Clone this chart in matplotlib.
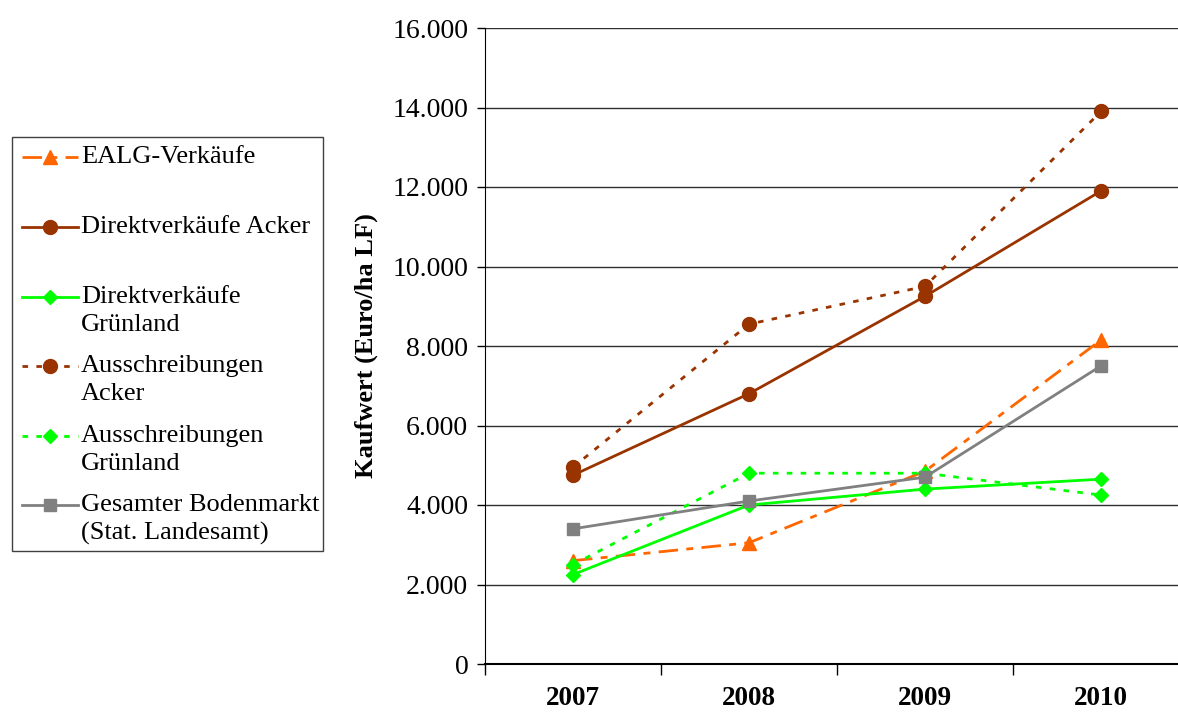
import matplotlib
matplotlib.use("Agg")
import matplotlib.pyplot as plt
from matplotlib.lines import Line2D
from matplotlib.patches import Rectangle
from matplotlib.ticker import FixedLocator, FuncFormatter

years = ["2007", "2008", "2009", "2010"]
ealg = [2600, 3050, 4850, 8150]
direkt_acker = [4750, 6800, 9250, 11900]
direkt_gruen = [2250, 4000, 4400, 4650]
aus_acker = [4950, 8550, 9500, 13900]
aus_gruen = [2500, 4800, 4800, 4250]
gesamt = [3400, 4100, 4700, 7500]

labels = ["EALG-Verkäufe", "Direktverkäufe Acker", "Direktverkäufe\nGrünland",
          "Ausschreibungen\nAcker", "Ausschreibungen\nGrünland",
          "Gesamter Bodenmarkt\n(Stat. Landesamt)"]

plt.rcParams['font.family'] = ['Liberation Serif', 'DejaVu Serif']

W, H = 1178, 713
fig = plt.figure(figsize=(W / 100, H / 100), dpi=100)

def fx(px):
    return px / W

def fy(py):
    return 1 - py / H

left, right, top, bottom = 485, 1189, 28, 664
ax = fig.add_axes([fx(left), fy(bottom), fx(right) - fx(left), fy(top) - fy(bottom)])
ax.set_xlim(-0.5, 3.5)
ax.set_ylim(0, 16000)

ORANGE = "#FF6600"
BROWN = "#993300"
GREEN = "#00FF00"
GREY = "#808080"

x = list(range(len(years)))
styles = [
    dict(color=ORANGE, marker="^", ms=10, ls=(0, (7, 3, 2.5, 3)), lw=2.0),
    dict(color=BROWN, marker="o", ms=10, ls="-", lw=2.0),
    dict(color=GREEN, marker="D", ms=7.5, ls="-", lw=2.0),
    dict(color=BROWN, marker="o", ms=10, ls=(0, (2, 3)), lw=2.0),
    dict(color=GREEN, marker="D", ms=7.5, ls=(0, (2, 3)), lw=2.0),
    dict(color=GREY, marker="s", ms=8.5, ls="-", lw=2.0),
]
series = [ealg, direkt_acker, direkt_gruen, aus_acker, aus_gruen, gesamt]
for s, st in zip(series, styles):
    ax.plot(x, s, color=st["color"], marker=st["marker"], markersize=st["ms"],
            linestyle=st["ls"], linewidth=st["lw"], markeredgecolor=st["color"],
            markerfacecolor=st["color"], zorder=3, clip_on=False)

ax.yaxis.set_major_locator(FixedLocator(range(0, 16001, 2000)))
ax.yaxis.set_major_formatter(FuncFormatter(lambda v, p: f"{int(v):,}".replace(",", ".")))
ax.grid(axis="y", color="#303030", linewidth=1.0, zorder=0)
ax.set_axisbelow(True)

ax.set_xticks([-0.5, 0.5, 1.5, 2.5, 3.5])
ax.set_xticklabels([])
ax.set_xticks(x, minor=True)
ax.set_xticklabels(years, minor=True, fontweight="bold", fontsize=19.5)
ax.tick_params(axis="x", which="minor", length=0, pad=16)
ax.tick_params(axis="x", which="major", length=8, width=1, direction="out", color="black")
ax.tick_params(axis="y", which="major", length=6, width=1, direction="out", labelsize=20, pad=6)

for sp in ["top", "right"]:
    ax.spines[sp].set_visible(False)
ax.spines["left"].set_color("black")
ax.spines["bottom"].set_color("black")
ax.spines["bottom"].set_linewidth(1.5)

ax.set_ylabel("Kaufwert (Euro/ha LF)", fontsize=19, fontweight="bold", labelpad=10)

# manual legend
fig.patches.append(Rectangle((fx(12), fy(551)), fx(323) - fx(12), fy(137) - fy(551),
                             transform=fig.transFigure, facecolor="white",
                             edgecolor="#404040", linewidth=1.0))
entry_y = [157, 227, 297, 366, 436, 505]
for lab, st, yy in zip(labels, styles, entry_y):
    fig.lines.append(Line2D([fx(22), fx(78)], [fy(yy), fy(yy)], transform=fig.transFigure,
                            color=st["color"], linestyle=st["ls"], linewidth=st["lw"]))
    fig.lines.append(Line2D([fx(50)], [fy(yy)], transform=fig.transFigure,
                            color=st["color"], marker=st["marker"], markersize=st["ms"],
                            linestyle="none"))
    for i, line in enumerate(lab.split("\n")):
        fig.text(fx(81), fy(yy + 28 * i), line, fontsize=19, va="center", ha="left")

fig.savefig("out.png", dpi=100)
